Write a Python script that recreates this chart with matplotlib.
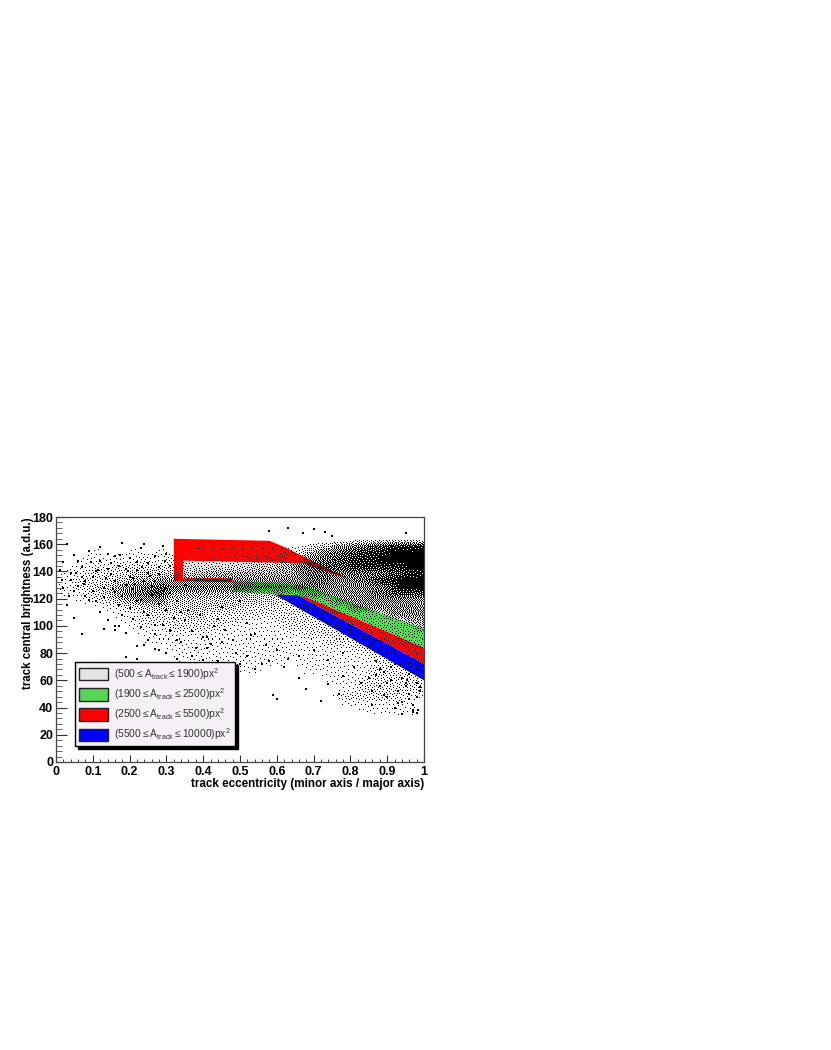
import numpy as np
import matplotlib
matplotlib.use('Agg')
import matplotlib.pyplot as plt
from matplotlib.colors import ListedColormap
from matplotlib.patches import Patch
from matplotlib.ticker import MultipleLocator

plt.rcParams['font.family'] = ['Liberation Sans', 'DejaVu Sans']
plt.rcParams['mathtext.fontset'] = 'custom'
plt.rcParams['mathtext.rm'] = 'Liberation Sans'
plt.rcParams['mathtext.default'] = 'regular'

x_title = 'track eccentricity (minor axis / major axis)'
y_title = 'track central brightness (a.d.u.)'
x_ticks = [0, 0.1, 0.2, 0.3, 0.4, 0.5, 0.6, 0.7, 0.8, 0.9, 1]
x_labels = ['0', '0.1', '0.2', '0.3', '0.4', '0.5', '0.6', '0.7', '0.8', '0.9', '1']
y_ticks = [0, 20, 40, 60, 80, 100, 120, 140, 160, 180]

# Band outlines: (eccentricity, brightness)
grey_band = [(0.345, 148), (0.67, 146), (0.80, 134), (1.0, 113), (1.0, 98),
             (0.67, 130), (0.48, 133), (0.345, 135)]
red_upper = [(0.32, 164), (0.58, 162.5), (0.62, 158), (0.80, 134), (0.67, 146),
             (0.345, 148), (0.345, 135), (0.48, 135), (0.48, 132), (0.32, 133)]
green_band = [(0.48, 133), (0.67, 130), (1.0, 98), (1.0, 84), (0.68, 121),
              (0.60, 123), (0.48, 125)]
red_lower = [(0.58, 123.5), (0.68, 121), (1.0, 84), (1.0, 72), (0.66, 122)]
blue_band = [(0.595, 123), (0.66, 122), (1.0, 72), (1.0, 60)]

legend_labels = [r'(500$\leq$A$_{track}$$\leq$1900)px$^{2}$',
                 r'(1900$\leq$A$_{track}$$\leq$2500)px$^{2}$',
                 r'(2500$\leq$A$_{track}$$\leq$5500)px$^{2}$',
                 r'(5500$\leq$A$_{track}$$\leq$10000)px$^{2}$']
legend_colors = ['#e5e5e5', '#55d655', '#ff0000', '#0000ff']

# Dot density, digit 0-9, top row is brightness 175-180,
# each row is 5 units high, each column 0.025 wide.
density_rows = [
    '0000000000000000000000000000000000000000',
    '0000000000000000000000000000000000000000',
    '0000000000000000000000000000000000000000',
    '0000000000000000000000000000000011111111',
    '0000100010010001111111111112335566778888',
    '0001101111111011111111111224566778889999',
    '0011111112112111111222223345667788899999',
    '0111212222222222222223334466777788888899',
    '1112222233333333444444444456666666667788',
    '1122223344455555555555555556665566788999',
    '1122334556676666666666666666655555667999',
    '1112234566774444444443333345555555667777',
    '0011223445553333333333332222225555555555',
    '0000011223333333333322222222222255555555',
    '0000001112222233222222222222222222225555',
    '0000000112222222222211112222222222222244',
    '0000000011112222221111111222222222222224',
    '0000000001111111111111111112222222222222',
    '0000000000111111111111111111122222222222',
    '0000000000001111111111111111111122222222',
    '0000000000000111111111111111111111222222',
    '0000000000000011111111111011111111122222',
    '0000000000000000001111000001111111222222',
    '0000000000000000100000000000011111222222',
    '0000000000000000000000000000001112222222',
    '0000000000000000000000000000000112222222',
    '0000000000000000000000000000001222222211',
    '0000000000000000000000000000000111111110',
    '0000000000000000000000000000000001111110',
    '0000000000000000000000000000000000000000',
    '0000000000000000000000000000000000000000',
    '0000000000000000000000000000000000000000',
    '0000000000000000000000000000000000000000',
    '0000000000000000000000000000000000000000',
    '0000000000000000000000000000000000000000',
    '0000000000000000000000000000000000000000',
]

# Single dots
dots_x = [0.01, 0.02, 0.03, 0.04, 0.05, 0.06, 0.07, 0.08, 0.09, 0.10, 0.11, 0.12, 0.13, 0.14, 0.15,
          0.16, 0.17, 0.18, 0.19, 0.20, 0.21, 0.22, 0.23, 0.24, 0.25, 0.26, 0.27, 0.28, 0.29, 0.30,
          0.02, 0.04, 0.06, 0.08, 0.10, 0.12, 0.14, 0.16, 0.18, 0.20, 0.22, 0.24, 0.26, 0.28, 0.30,
          0.015, 0.035, 0.055, 0.075, 0.095, 0.115, 0.135, 0.155, 0.175, 0.195, 0.215, 0.235, 0.255, 0.275, 0.295,
          0.03, 0.05, 0.07, 0.09, 0.11, 0.13, 0.15, 0.17, 0.19, 0.21, 0.23, 0.25, 0.27, 0.29, 0.31,
          0.12, 0.14, 0.16, 0.18, 0.20, 0.22, 0.24, 0.26, 0.28, 0.30, 0.31, 0.32, 0.33, 0.34, 0.35,
          0.17, 0.19, 0.21, 0.23, 0.25, 0.27, 0.29, 0.31, 0.33, 0.35, 0.37, 0.39, 0.41, 0.43, 0.45,
          0.22, 0.25, 0.28, 0.31, 0.34, 0.36, 0.38, 0.40, 0.42, 0.44, 0.46, 0.48, 0.50, 0.52, 0.54,
          0.05, 0.16, 0.19, 0.24, 0.27, 0.30, 0.33, 0.37, 0.41, 0.45, 0.49, 0.53, 0.57, 0.44, 0.47,
          0.52, 0.56, 0.60, 0.63, 0.39, 0.42, 0.46, 0.50, 0.54, 0.58, 0.62, 0.66, 0.70, 0.74, 0.78,
          0.59, 0.60, 0.66, 0.68, 0.74, 0.77, 0.72, 0.78, 0.81, 0.83, 0.85, 0.86, 0.87, 0.88, 0.89,
          0.90, 0.91, 0.92, 0.93, 0.94, 0.95, 0.96, 0.97, 0.98, 0.99, 0.86, 0.88, 0.90, 0.92, 0.94,
          0.96, 0.98, 0.87, 0.89, 0.91, 0.93, 0.95, 0.97, 0.99, 0.94, 0.96, 0.98, 0.97, 0.985, 0.955,
          0.58, 0.63, 0.67, 0.70, 0.73, 0.75, 0.95, 0.13, 0.16, 0.22, 0.27, 0.40, 0.37, 0.07, 0.48]
dots_y = [141, 147, 160, 134, 152, 129, 143, 122, 155, 136, 118, 148, 128, 153, 138,
          125, 144, 161, 130, 150, 127, 141, 157, 133, 146, 123, 151, 138, 159, 128,
          128, 139, 148, 133, 126, 158, 142, 151, 122, 136, 147, 160, 129, 143, 153,
          134, 122, 139, 131, 147, 141, 135, 127, 152, 140, 131, 143, 137, 124, 148,
          115, 126, 136, 119, 140, 121, 146, 115, 142, 135, 119, 139, 133, 126, 144,
          110, 104, 133, 108, 113, 118, 110, 122, 116, 112, 124, 106, 118, 110, 130,
          100, 95, 105, 99, 108, 94, 101, 97, 90, 104, 96, 108, 92, 100, 114,
          85, 90, 82, 96, 88, 112, 84, 92, 87, 105, 97, 90, 118, 102, 94,
          106, 97, 77, 86, 101, 80, 76, 78, 84, 88, 80, 93, 86, 74, 70,
          78, 72, 82, 76, 67, 64, 62, 72, 68, 74, 70, 78, 82, 75, 80,
          49, 46, 62, 54, 57, 50, 45, 63, 70, 58, 62, 52, 74, 56, 66,
          48, 60, 72, 52, 44, 58, 65, 37, 48, 55, 42, 68, 58, 40, 62,
          50, 36, 64, 49, 70, 43, 56, 38, 52, 35, 46, 58, 42, 38, 60,
          170, 172, 168, 171, 169, 166, 168, 98, 100, 76, 83, 75, 64, 94, 66]


def speckle(rows, width, height):
    """Show the read density as single pixel dots by serpentine error diffusion."""
    d = np.array([[int(c) for c in r] for r in rows], dtype=float) / 9.0
    d = d ** 1.3
    nr, nc = d.shape
    cx = (np.arange(width) + 0.5) / width * nc - 0.5
    cy = (np.arange(height) + 0.5) / height * nr - 0.5
    across = np.array([np.interp(cx, np.arange(nc), row) for row in d])
    grid = np.array([np.interp(cy, np.arange(nr), col) for col in across.T]).T
    out = np.zeros((height, width))
    for j in range(height):
        step = 1 if j % 2 == 0 else -1
        order = range(width) if step == 1 else range(width - 1, -1, -1)
        for i in order:
            v = grid[j, i]
            out[j, i] = 1.0 if v >= 0.5 else 0.0
            err = v - out[j, i]
            if 0 <= i + step < width:
                grid[j, i + step] += err * 7 / 16
            if j + 1 < height:
                if 0 <= i - step < width:
                    grid[j + 1, i - step] += err * 3 / 16
                grid[j + 1, i] += err * 5 / 16
                if 0 <= i + step < width:
                    grid[j + 1, i + step] += err * 1 / 16
    return out


fig = plt.figure(figsize=(8.31, 10.5), dpi=100, facecolor='white')
ax = fig.add_axes([56 / 831, 1 - 762 / 1050, 368 / 831, 245 / 1050])

for outline, colour in [(grey_band, legend_colors[0]), (red_upper, legend_colors[2]),
                        (green_band, legend_colors[1]), (red_lower, legend_colors[2]),
                        (blue_band, legend_colors[3])]:
    xs, ys = zip(*outline)
    ax.fill(xs, ys, color=colour, lw=0, zorder=1)

ink = ListedColormap([(0, 0, 0, 0), (0, 0, 0, 1)])
ax.imshow(speckle(density_rows, 368, 245), extent=[0, 1, 0, 180], aspect='auto', cmap=ink,
          vmin=0, vmax=1, interpolation='nearest', zorder=2)
ax.scatter(dots_x, dots_y, s=0.9, marker='s', color='black', linewidths=0, zorder=3)

ax.set_xlim(0, 1)
ax.set_ylim(0, 180)
ax.set_xticks(x_ticks)
ax.set_xticklabels(x_labels)
ax.set_yticks(y_ticks)
ax.xaxis.set_minor_locator(MultipleLocator(0.02))
ax.yaxis.set_minor_locator(MultipleLocator(4))
ax.tick_params(axis='x', which='major', direction='in', length=5, width=0.8, color='#333333', pad=3, labelsize=9)
ax.tick_params(axis='x', which='minor', direction='in', length=2.5, width=0.7, color='#444444')
ax.tick_params(axis='y', which='major', direction='in', length=8, width=0.8, color='#333333', pad=2, labelsize=9)
ax.tick_params(axis='y', which='minor', direction='in', length=4, width=0.7, color='#666666')
for lab in ax.get_xticklabels() + ax.get_yticklabels():
    lab.set_fontweight('bold')
for s in ax.spines.values():
    s.set_linewidth(0.9)
    s.set_color('#444444')
    s.set_zorder(6)

ax.text(1.0, -0.09, x_title, transform=ax.transAxes, ha='right', va='center',
        fontsize=8.4, fontweight='bold')
ax.text(-0.077, 1.0, y_title, transform=ax.transAxes, ha='center', va='top',
        rotation=90, fontsize=8.3, fontweight='bold')

handles = [Patch(facecolor=c, edgecolor='#222222', linewidth=1.0) for c in legend_colors]
leg = ax.legend(handles, legend_labels, loc='lower left',
                bbox_to_anchor=(19 / 368, (762 - 746) / 245), borderaxespad=0,
                fancybox=False, framealpha=1, facecolor='#f5f0f5', edgecolor='black',
                fontsize=7.4, labelcolor='#333333', handlelength=2.85, handleheight=1.45,
                handletextpad=0.6, labelspacing=0.42, borderpad=0.38,
                shadow={'ox': 2.2, 'oy': -2.2, 'facecolor': 'black', 'edgecolor': 'black', 'alpha': 1})
leg.set_zorder(10)

fig.savefig('out.png', dpi=100, facecolor='white')
